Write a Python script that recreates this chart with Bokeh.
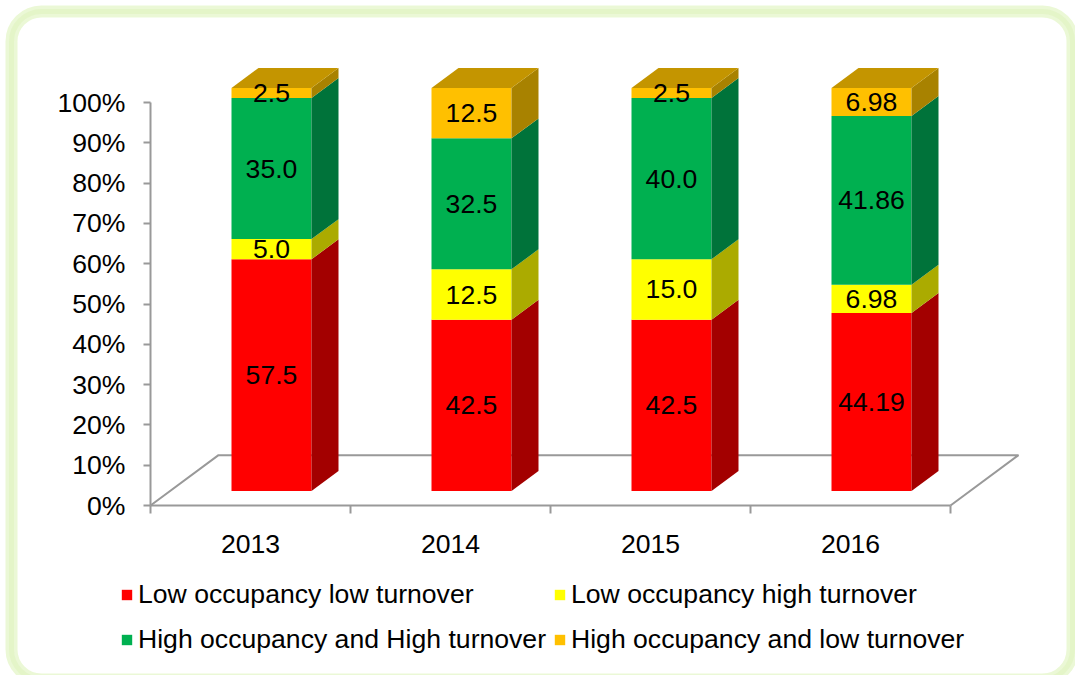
from bokeh.plotting import figure
from bokeh.models import FixedTicker, Legend, LegendItem, BoxAnnotation
from bokeh.core.properties import value
from bokeh.embed import file_html
from bokeh.resources import INLINE

# ---------------- data ----------------
years = ["2013", "2014", "2015", "2016"]
series_names = ["Low occupancy low turnover", "Low occupancy high turnover",
                "High occupancy and High turnover", "High occupancy and low turnover"]
low_occ_low_turn = [57.5, 42.5, 42.5, 44.19]
low_occ_high_turn = [5.0, 12.5, 15.0, 6.98]
high_occ_high_turn = [35.0, 32.5, 40.0, 41.86]
high_occ_low_turn = [2.5, 12.5, 2.5, 6.98]
labels_low_low = ["57.5", "42.5", "42.5", "44.19"]
labels_low_high = ["5.0", "12.5", "15.0", "6.98"]
labels_high_high = ["35.0", "32.5", "40.0", "41.86"]
labels_high_low = ["2.5", "12.5", "2.5", "6.98"]
y_ticks = [0, 10, 20, 30, 40, 50, 60, 70, 80, 90, 100]
y_tick_labels = ["0%", "10%", "20%", "30%", "40%", "50%", "60%", "70%", "80%", "90%", "100%"]

series_values = [low_occ_low_turn, low_occ_high_turn, high_occ_high_turn, high_occ_low_turn]
series_labels = [labels_low_low, labels_low_high, labels_high_high, labels_high_low]

# ---------------- styles ----------------
front_colors = ["#FF0000", "#FFFF00", "#00B050", "#FFC000"]
side_colors = ["#A30000", "#ABAB00", "#00733A", "#A88200"]
top_color = "#C49500"
axis_color = "#999999"
FONT = "Liberation Sans"
FS = "26.6px"

# ---------------- geometry (canvas pixels) ----------------
W, H = 1075, 675
ORIGIN_X, ORIGIN_Y = 150, 505   # where x=0, y=0% land on the canvas
PX_X = 200.0   # px per category
PX_Y = 4.03    # px per percent

BAR_W = 0.4
OX, OY = 0.105, 3.6      # bar front offset into the depth
DX, DY = 0.135, 4.96     # bar depth
FLOOR_DX, FLOOR_DY = 0.34, 12.5


def cx(px):
    return (px - ORIGIN_X) / PX_X


def cy(py):
    return (ORIGIN_Y - py) / PX_Y


p = figure(width=W, height=H, x_range=(cx(0), cx(W)), y_range=(cy(H), cy(0)),
           min_border=0, output_backend="svg", toolbar_location=None)
p.xgrid.visible = False
p.ygrid.visible = False
p.outline_line_color = None
p.background_fill_color = "white"
p.border_fill_color = "white"

# decorative rounded border
p.add_layout(BoxAnnotation(left=cx(11), right=cx(1072), top=cy(11), bottom=cy(679),
                           fill_alpha=0, line_color="#e6f6cc", line_width=12, line_alpha=0.8,
                           border_radius=30, level="underlay"))
p.add_layout(BoxAnnotation(left=cx(11), right=cx(1072), top=cy(11), bottom=cy(679),
                           fill_alpha=0, line_color="#d5efaa", line_width=5,
                           border_radius=30, level="underlay"))

# floor
n = len(years)
p.multi_line(xs=[[0, FLOOR_DX, n + FLOOR_DX, n]],
             ys=[[0, FLOOR_DY, FLOOR_DY, 0]],
             line_color=axis_color, line_width=2)

# bars
cum = [0.0] * n
front_renderers = []
tx, ty, tt = [], [], []
for s, vals in enumerate(series_values):
    lefts = [i + 0.5 - BAR_W / 2 + OX for i in range(n)]
    rights = [l + BAR_W for l in lefts]
    bottoms = [OY + cum[i] for i in range(n)]
    tops = [OY + cum[i] + vals[i] for i in range(n)]
    r = p.quad(left=lefts, right=rights, bottom=bottoms, top=tops,
               fill_color=front_colors[s], line_color=None)
    front_renderers.append(r)
    xs = [[rights[i], rights[i] + DX, rights[i] + DX, rights[i]] for i in range(n)]
    ys = [[bottoms[i], bottoms[i] + DY, tops[i] + DY, tops[i]] for i in range(n)]
    p.patches(xs=xs, ys=ys, fill_color=side_colors[s], line_color=None)
    for i in range(n):
        tx.append((lefts[i] + rights[i]) / 2)
        ty.append(OY + cum[i] + vals[i] / 2)
        tt.append(series_labels[s][i])
        cum[i] += vals[i]

# top faces
lefts = [i + 0.5 - BAR_W / 2 + OX for i in range(n)]
txs = [[lefts[i], lefts[i] + BAR_W, lefts[i] + BAR_W + DX, lefts[i] + DX] for i in range(n)]
tys = [[OY + cum[i], OY + cum[i], OY + cum[i] + DY, OY + cum[i] + DY] for i in range(n)]
p.patches(xs=txs, ys=tys, fill_color=top_color, line_color=None)

p.text(x=tx, y=ty, text=tt, text_align="center", text_baseline="middle",
       text_font=value(FONT), text_font_size=FS, text_color="black")

# y axis (drawn inside the frame at x = 0)
ya = p.yaxis[0]
ya.fixed_location = 0
ya.ticker = FixedTicker(ticks=y_ticks)
ya.major_label_overrides = {t: lab for t, lab in zip(y_ticks, y_tick_labels)}
ya.bounds = (0, 100)
ya.axis_line_color = axis_color
ya.axis_line_width = 2
ya.major_tick_line_color = axis_color
ya.major_tick_line_width = 2
ya.major_tick_out = 7
ya.major_tick_in = 0
ya.minor_tick_line_color = None
ya.major_label_standoff = 18
ya.major_label_text_font = FONT
ya.major_label_text_font_size = FS
ya.major_label_text_color = "black"

# x axis (drawn inside the frame at y = 0)
xa = p.xaxis[0]
xa.fixed_location = 0
centers = [i + 0.5 for i in range(n)]
xa.ticker = FixedTicker(ticks=centers, minor_ticks=list(range(n + 1)))
xa.major_label_overrides = {c: y for c, y in zip(centers, years)}
xa.bounds = (0, n)
xa.axis_line_color = axis_color
xa.axis_line_width = 2
xa.major_tick_line_color = None
xa.major_tick_out = 0
xa.major_tick_in = 0
xa.minor_tick_line_color = axis_color
xa.minor_tick_line_width = 2
xa.minor_tick_out = 8
xa.minor_tick_in = 0
xa.major_label_standoff = 21
xa.major_label_text_font = FONT
xa.major_label_text_font_size = FS
xa.major_label_text_color = "black"


def make_legend(idx, loc):
    items = [LegendItem(label=series_names[k], renderers=[front_renderers[k]]) for k in idx]
    return Legend(items=items, location=loc, orientation="vertical",
                  label_text_font=FONT, label_text_font_size=FS, label_text_color="black",
                  glyph_width=13, glyph_height=13, label_standoff=5, spacing=14,
                  label_height=30, padding=0, margin=0, border_line_color=None,
                  background_fill_alpha=0)


p.add_layout(make_legend([0, 2], (120, 20)))
p.add_layout(make_legend([1, 3], (553, 20)))

open("out.html", "w").write(file_html(p, INLINE))
